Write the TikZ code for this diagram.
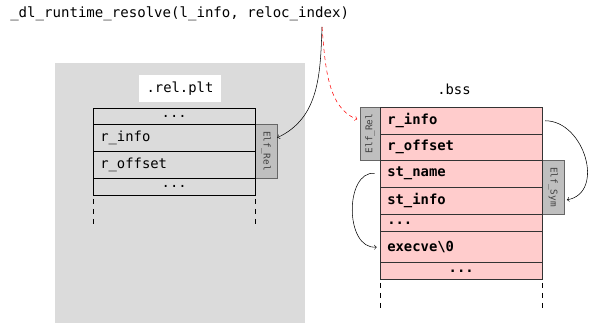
\documentclass[tikz,border=0pt]{standalone}
\usepackage{fontspec}
\setmonofont{DejaVu Sans Mono}

\begin{document}
\begin{tikzpicture}[x=0.75pt, y=-0.75pt, >=to,
    txt/.style={font=\ttfamily\fontsize{10.4}{12}\selectfont},
    row/.style={txt, draw, anchor=north west, minimum width=121.5pt,
        text width=111pt, inner xsep=5.25pt, inner ysep=0pt, align=left},
    pinkrow/.style={row, fill=red!20, draw=black!80,
        font=\ttfamily\bfseries\fontsize{10.4}{12}\selectfont},
    tag/.style={draw=black!60, fill=black!25, text=black!75, inner sep=0pt,
        font=\ttfamily\fontsize{7}{8}\selectfont}]
    \useasboundingbox (0,0) rectangle (594,323);

    % Background of the .rel.plt section
    \fill[black!14] (55,63) rectangle (305,323);

    % Title call
    \node[txt, font=\ttfamily\fontsize{10.55}{12}\selectfont, anchor=base west, inner sep=0pt] (call) at (10,18)
        {\_dl\_runtime\_resolve(l\_info, reloc\_index)};
    \coordinate (src) at (322,27);

    % Left table (.rel.plt)
    \node[txt, fill=white, minimum width=61.5pt, minimum height=20.25pt] (relplt) at (180,88.5) {.rel.plt};
    \node[tag, rotate=-90, minimum width=40.5pt, minimum height=16.5pt] (ltag) at (266,151) {Elf\_Rel};
    \node[row, minimum height=12pt, align=center] (ldots) at (93,108) {...};
    \node[row, minimum height=20.25pt] (linfo) at (93,124) {r\_info};
    \node[row, minimum height=20.25pt] (loff) at (93,151) {r\_offset};
    \node[row, minimum height=12.75pt, align=center] (lend) at (93,178) {...};
    \foreach \x in {93,255}
        \draw[dash pattern=on 3.75pt off 3.75pt] (\x,199) -- (\x,227);

    % Right table (.bss)
    \node[txt] (bss) at (454,89) {.bss};
    \node[tag, rotate=90, minimum width=39.75pt, minimum height=15pt] (rtag) at (370,133.5) {Elf\_Rel};
    \node[tag, rotate=-90, minimum width=40.5pt, minimum height=16.5pt] (symtag) at (553,187) {Elf\_Sym};
    \node[pinkrow, minimum height=20.25pt] (rinfo) at (380,107) {r\_info};
    \node[pinkrow, minimum height=19.5pt] (roff) at (380,134) {r\_offset};
    \node[pinkrow, minimum height=20.25pt] (stname) at (380,160) {st\_name};
    \node[pinkrow, minimum height=20.25pt] (stinfo) at (380,187) {st\_info};
    \node[pinkrow, minimum height=12.75pt] (rdots) at (380,214) {...};
    \node[pinkrow, minimum height=23.25pt] (execve) at (380,231) {execve\textbackslash0};
    \node[pinkrow, minimum height=12.75pt, align=center] (rend) at (380,262) {...};
    \foreach \x in {380,542}
        \draw[dash pattern=on 3.75pt off 3.75pt] (\x,283) -- (\x,309);

    % Arrows
    \draw[->] (src) to[out=-92, in=25] ([yshift=10pt]ltag.north);
    \draw[->, red, dash pattern=on 3pt off 2.5pt, shorten >=2pt] (src) to[out=-85, in=160, looseness=0.9]
        ([yshift=10pt]rtag.north);
    \draw[->, shorten <=2pt, shorten >=2pt] (rinfo.east) to[out=0, in=10, looseness=1.3]
        ([yshift=-10pt]symtag.north);
    \draw[->, shorten <=4pt, shorten >=2.5pt] (stname.west) to[out=175, in=185, looseness=1.25] (execve.west);
\end{tikzpicture}
\end{document}
